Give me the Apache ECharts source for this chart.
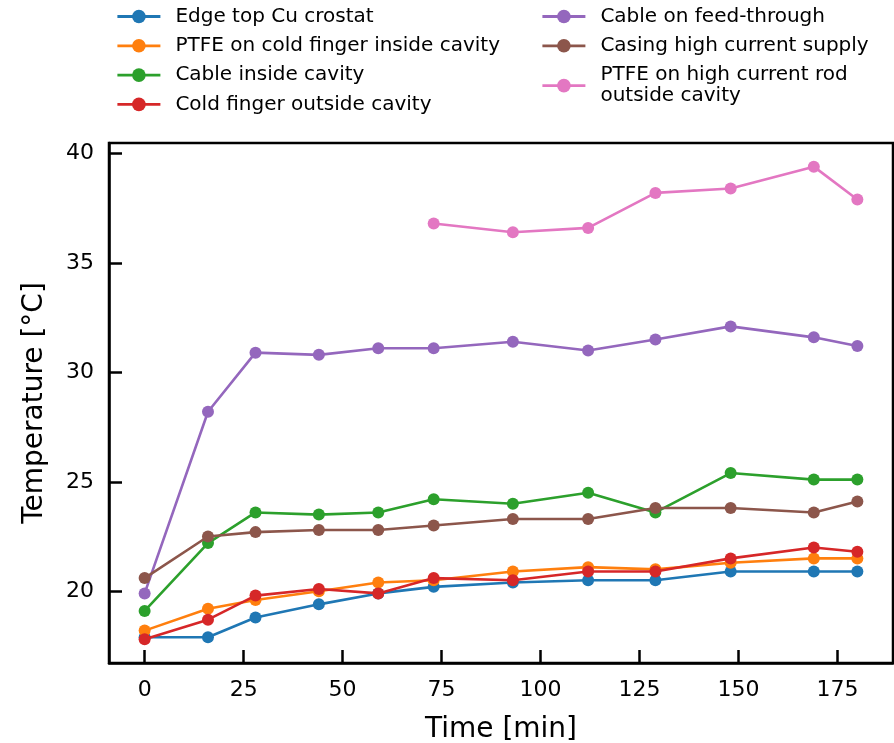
<!DOCTYPE html>
<html>
<head>
<meta charset="utf-8">
<script src="https://cdn.jsdelivr.net/npm/echarts@6/dist/echarts.min.js"></script>
<style>
  html, body { margin: 0; padding: 0; background: #fff; }
  #chart { width: 894px; height: 743px; }
</style>
</head>
<body>
<div id="chart"></div>
<script>
// Measurement times [min]
const times = [0, 16, 28, 44, 59, 73, 93, 112, 129, 148, 169, 180];

// Temperatures [°C] per sensor
const edgeTopCu      = [17.9, 17.9, 18.8, 19.4, 19.9, 20.2, 20.4, 20.5, 20.5, 20.9, 20.9, 20.9];
const ptfeColdFinger = [18.2, 19.2, 19.6, 20.0, 20.4, 20.5, 20.9, 21.1, 21.0, 21.3, 21.5, 21.5];
const cableInside    = [19.1, 22.2, 23.6, 23.5, 23.6, 24.2, 24.0, 24.5, 23.6, 25.4, 25.1, 25.1];
const coldFingerOut  = [17.8, 18.7, 19.8, 20.1, 19.9, 20.6, 20.5, 20.9, 20.9, 21.5, 22.0, 21.8];
const cableFeed      = [19.9, 28.2, 30.9, 30.8, 31.1, 31.1, 31.4, 31.0, 31.5, 32.1, 31.6, 31.2];
const casingSupply   = [20.6, 22.5, 22.7, 22.8, 22.8, 23.0, 23.3, 23.3, 23.8, 23.8, 23.6, 24.1];
const ptfeRodTimes   = [73, 93, 112, 129, 148, 169, 180];
const ptfeRod        = [36.8, 36.4, 36.6, 38.2, 38.4, 39.4, 37.9];

const seriesNames = [
  'Edge top Cu crostat',
  'PTFE on cold finger inside cavity',
  'Cable inside cavity',
  'Cold finger outside cavity',
  'Cable on feed-through',
  'Casing high current supply',
  'PTFE on high current rod outside cavity'
];
const colors = ['#1f77b4', '#ff7f0e', '#2ca02c', '#d62728', '#9467bd', '#8c564b', '#e377c2'];

const xTicks = [0, 25, 50, 75, 100, 125, 150, 175];
const yTicks = [20, 25, 30, 35, 40];

const FONT = 'DejaVu Sans';

function pairs(xs, ys) { return xs.map((x, i) => [x, ys[i]]); }

const seriesValues = [
  pairs(times, edgeTopCu),
  pairs(times, ptfeColdFinger),
  pairs(times, cableInside),
  pairs(times, coldFingerOut),
  pairs(times, cableFeed),
  pairs(times, casingSupply),
  pairs(ptfeRodTimes, ptfeRod)
];

const series = seriesValues.map((d, i) => ({
  name: seriesNames[i],
  type: 'line',
  data: d,
  symbol: 'circle',
  symbolSize: 12,
  itemStyle: { color: colors[i] },
  lineStyle: { color: colors[i], width: 2.6 },
  z: 2 + i,
  animation: false
}));

const legendText = {
  fontFamily: FONT, fontSize: 20, color: '#000', lineHeight: 21,
  padding: [0, 0, 0, 10]
};

const legendCommon = {
  orient: 'vertical',
  top: 6,
  padding: 0,
  itemWidth: 43, itemHeight: 17, itemGap: 8.3,
  lineStyle: { width: 2.8 },
  textStyle: legendText
};

const chart = echarts.init(document.getElementById('chart'), null, { renderer: 'canvas' });
chart.setOption({
  backgroundColor: '#fff',
  animation: false,
  color: colors,
  legend: [
    Object.assign({ data: seriesNames.slice(0, 4), left: 116 }, legendCommon),
    Object.assign({
      data: seriesNames.slice(4), left: 541,
      formatter: n => n === 'PTFE on high current rod outside cavity'
        ? 'PTFE on high current rod\noutside cavity' : n
    }, legendCommon)
  ],
  grid: {
    left: 109, right: 1, top: 143, bottom: 80,
    outerBoundsMode: 'none',
    containLabel: false,
    show: true, borderColor: '#000', borderWidth: 2.5, backgroundColor: 'transparent'
  },
  xAxis: {
    type: 'value',
    min: -9, max: 189,
    name: 'Time [min]',
    nameLocation: 'middle',
    nameGap: 53,
    nameTextStyle: { fontFamily: FONT, fontSize: 28, color: '#000' },
    axisLine: { show: true, onZero: false, lineStyle: { color: '#000', width: 2.5 } },
    axisTick: { show: true, inside: true, length: 13, lineStyle: { color: '#000', width: 2.5 }, customValues: xTicks },
    axisLabel: { fontFamily: FONT, fontSize: 22, color: '#000', margin: 16, customValues: xTicks },
    splitLine: { show: false }
  },
  yAxis: {
    type: 'value',
    min: 16.72, max: 40.48,
    name: 'Temperature [°C]',
    nameLocation: 'middle',
    nameGap: 60,
    nameTextStyle: { fontFamily: FONT, fontSize: 28, color: '#000' },
    axisLine: { show: true, onZero: false, lineStyle: { color: '#000', width: 2.5 } },
    axisTick: { show: true, inside: true, length: 13, lineStyle: { color: '#000', width: 2.5 }, customValues: yTicks },
    axisLabel: { fontFamily: FONT, fontSize: 22, color: '#000', margin: 15, customValues: yTicks },
    splitLine: { show: false }
  },
  series: series
});
</script>
</body>
</html>
